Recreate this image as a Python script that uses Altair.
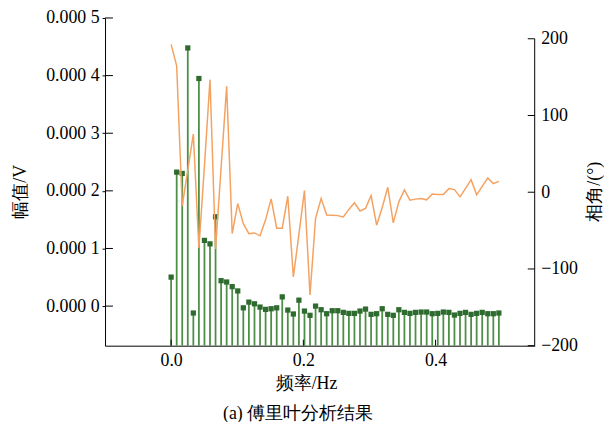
import altair as alt
import pandas as pd

# ---------------- data ----------------
freq = [0.0, 0.0084, 0.0168, 0.0252, 0.0336, 0.0420, 0.0504, 0.0588, 0.0672, 0.0756,
        0.0840, 0.0924, 0.1008, 0.1092, 0.1176, 0.1261, 0.1345, 0.1429, 0.1513, 0.1597,
        0.1681, 0.1765, 0.1849, 0.1933, 0.2017, 0.2101, 0.2185, 0.2269, 0.2353, 0.2437,
        0.2521, 0.2605, 0.2689, 0.2773, 0.2857, 0.2941, 0.3025, 0.3109, 0.3193, 0.3277,
        0.3361, 0.3445, 0.3529, 0.3613, 0.3697, 0.3782, 0.3866, 0.3950, 0.4034, 0.4118,
        0.4202, 0.4286, 0.4370, 0.4454, 0.4538, 0.4622, 0.4706, 0.4790, 0.4874, 0.4958]

amplitude = [0.0000503, 0.0002325, 0.0002302, 0.000448, -0.000012, 0.000395, 0.000114,
             0.000108, 0.000155, 0.0000441, 0.0000418, 0.0000338, 0.0000263, -0.000003,
             0.0000069, 0.000004, -0.0000017, -0.0000057, -0.0000046, -0.000003, 0.000016,
             -0.0000069, -0.0000137, 0.0000103, -0.0000086, -0.000016, 0.0, -0.0000063,
             -0.0000132, -0.000008, -0.000008, -0.0000109, -0.0000126, -0.0000126,
             -0.0000086, -0.0000052, -0.0000143, -0.0000132, -0.0000046, -0.0000143,
             -0.000016, -0.0000063, -0.0000109, -0.0000126, -0.0000109, -0.0000103,
             -0.0000103, -0.0000132, -0.0000126, -0.0000103, -0.0000109, -0.0000155,
             -0.0000126, -0.0000109, -0.0000143, -0.0000126, -0.0000109, -0.0000132,
             -0.0000132, -0.0000120]

phase = [192.7, 164.7, -18, 29, 75.7, -72.7, 34, 146.7, -74, 32,
         138, -53.8, -14.8, -41, -54, -53, -56.8, -36, -8.6, -46.9,
         -46.9, -5.2, -110.5, -55, 2.2, -134, -34, -8.2, -29.7, -30,
         -30.5, -32.3, -22.4, -13.8, -24.5, -21, -4.3, -43, -20, 6.5,
         -40, -12.5, 3, -10.3, -9, -8.2, -9.9, -2.4, -3, -3,
         4.7, 3.4, -6, 5, 16.3, -3.4, 7.7, 18.5, 11.2, 14.2]

freq_ticks = [0.0, 0.2, 0.4]
amp_ticks = [0.0, 0.0001, 0.0002, 0.0003, 0.0004, 0.0005]
phase_ticks = [-200, -100, 0, 100, 200]

X_DOMAIN = [-0.1, 0.55]
AMP_DOMAIN = [-0.0000687, 0.0005]
PHASE_DOMAIN = [-200, 227.1]
PHASE_SPINE = [-200, 200]

# ---------------- layout / style ----------------
W, H = 434, 331
FONT = "Liberation Serif"
FS = 18
STEM = "#4E8F48"
MARK = "#2E6B2E"
ORANGE = "#F4A261"

df = pd.DataFrame({"freq": freq, "amp": amplitude, "phase": phase})
xt = pd.DataFrame({"v": freq_ticks})
at = pd.DataFrame({"v": amp_ticks})
pt = pd.DataFrame({"v": phase_ticks})
one = pd.DataFrame({"a": [0]})


def xs():
    return alt.Scale(domain=X_DOMAIN, nice=False, zero=False)


def ams():
    return alt.Scale(domain=AMP_DOMAIN, nice=False, zero=False)


def phs():
    return alt.Scale(domain=PHASE_DOMAIN, nice=False, zero=False)


x_axis = alt.Axis(orient="bottom", values=freq_ticks, format=".1f", title="频率/Hz", grid=False,
                  ticks=False, labelPadding=6,
                  titleX=203, titleY=38, titleAlign="center", titleBaseline="middle")

left_axis = alt.Axis(orient="left", values=amp_ticks, grid=False, title="幅值/V",
                     labelExpr="substring(format(datum.value, '.4f'), 0, 5) + ' ' + substring(format(datum.value, '.4f'), 5)",
                     tickSize=3, labelPadding=3,
                     titleAngle=270, titleX=-85, titleY=175,
                     titleAlign="center", titleBaseline="middle")

right_axis = alt.Axis(orient="right", values=phase_ticks, grid=False, title="相角/(°)",
                      domain=False, ticks=False, labelPadding=6,
                      titleAngle=270, titleX=60, titleY=175,
                      titleAlign="center", titleBaseline="middle")

stems = alt.Chart(df).mark_rule(color=STEM, strokeWidth=1.8).encode(
    x=alt.X("freq:Q", scale=xs(), axis=x_axis),
    y=alt.Y("amp:Q", scale=ams(), axis=left_axis),
    y2=alt.datum(AMP_DOMAIN[0]),
)
heads = alt.Chart(df).mark_square(color=MARK, size=28, opacity=1).encode(
    x=alt.X("freq:Q", scale=xs(), axis=None),
    y=alt.Y("amp:Q", scale=ams(), axis=None),
)
left_ticks = alt.Chart(at).mark_rule(color="black", strokeWidth=1).encode(
    y=alt.Y("v:Q", scale=ams(), axis=None),
    x=alt.value(0), x2=alt.value(8),
)
x_ticks = alt.Chart(xt).mark_rule(color="black", strokeWidth=1).encode(
    x=alt.X("v:Q", scale=xs(), axis=None),
    y=alt.value(H - 6), y2=alt.value(H),
)
phase_line = alt.Chart(df).mark_line(color=ORANGE, strokeWidth=1.5).encode(
    x=alt.X("freq:Q", scale=xs(), axis=None),
    y=alt.Y("phase:Q", scale=phs(), axis=right_axis),
)
right_ticks = alt.Chart(pt).mark_rule(color="black", strokeWidth=1).encode(
    y=alt.Y("v:Q", scale=phs(), axis=None),
    x=alt.value(W - 7), x2=alt.value(W),
)
right_spine = alt.Chart(one).mark_rule(color="black", strokeWidth=1).encode(
    y=alt.Y(datum=PHASE_SPINE[0], type="quantitative", scale=phs(), axis=None),
    y2=alt.Y2(datum=PHASE_SPINE[1]),
    x=alt.value(W),
)

chart = alt.layer(
    stems, heads, left_ticks, x_ticks, phase_line, right_ticks, right_spine
).resolve_scale(x="independent", y="independent").resolve_axis(
    x="independent", y="independent"
).properties(
    width=W, height=H,
    padding={"left": 98, "top": 8, "right": 70, "bottom": 75},
    autosize=alt.AutoSizeParams(type="none"),
    title=alt.TitleParams(text="(a) 傅里叶分析结果", orient="bottom", anchor="middle",
                          dx=-22, offset=13, font=FONT, fontSize=FS,
                          fontWeight="normal", color="black"),
).configure(
    background="white",
    font=FONT,
).configure_view(
    stroke=None,
).configure_axis(
    labelFont=FONT, labelFontSize=FS, labelColor="black",
    titleFont=FONT, titleFontSize=FS, titleFontWeight="normal", titleColor="black",
    domainColor="black", tickColor="black", labelOverlap=False, labelFlush=False,
)

chart.save("out.html", embed_options={"renderer": "svg", "actions": False})
